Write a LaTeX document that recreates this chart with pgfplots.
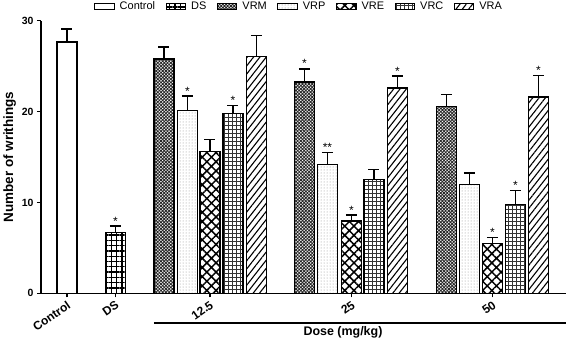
\documentclass[border=0pt]{standalone}
\usepackage{pgfplots}
\pgfplotsset{compat=1.18}
\usepackage{fontspec}
\setmainfont{Liberation Sans}
\usetikzlibrary{patterns.meta}
\begin{document}
\begin{tikzpicture}[x=1bp,y=1bp]
\pgfplotsset{
  mybar/.style={ybar, bar width=20, bar shift=0pt, draw=black, line width=1.3bp,
    error bars/.cd, y dir=plus, y explicit,
    error bar style={line width=1.4bp, black, solid},
    error mark options={line width=1.4bp, mark size=5.5bp, black, solid, rotate=90}},
}
\begin{axis}[
  scale only axis, width=525bp, height=272.6bp,
  xmin=40, xmax=565, ymin=0, ymax=30,
  axis x line*=bottom, axis y line*=left,
  axis line style={line width=1.3bp, -},
  tick align=outside, major tick length=4bp,
  tick style={line width=1.3bp, black},
  xtick={66,114.5,209,350.5,491.5},
  xticklabels={Control,DS,12.5,25,50},
  ytick={0,10,20,30},
  /pgf/number format/assume math mode=true,
  yticklabel style={font=\bfseries\fontsize{10.5}{12}\selectfont},
  xticklabel style={font=\bfseries\fontsize{12}{14}\selectfont, rotate=35, anchor=north east, inner sep=2bp},
  ylabel={Number of writhings},
  ylabel style={font=\bfseries\fontsize{13.5}{15}\selectfont, yshift=-1bp},
  clip=false,
  legend columns=7,
  legend style={draw=none, inner sep=0pt, at={(0.101,1)}, anchor=west, yshift=14bp,
    font=\fontsize{11}{13}\selectfont,
    /tikz/every odd column/.append style={column sep=3bp},
    /tikz/every even column/.append style={column sep=8.5bp}},
  legend image code/.code={\draw[#1, line width=1.1bp] (0bp,-3.2bp) rectangle (19.5bp,3.2bp);},
]
% Control
\addplot[fill=white, mybar] coordinates {(66,27.65) +- (0,1.45)};
\addlegendentry{Control}
% DS
\addplot[pattern={Hatch[angle=0,distance=5.3bp,line width=1.3bp]}, mybar] coordinates {(114.5,6.7) +- (0,0.7)};
\addlegendentry{DS}
% VRM
\addplot[pattern={Hatch[angle=45,distance=2.3bp,line width=0.85bp]}, pattern color=black!85, mybar] coordinates {
 (163,25.8) +- (0,1.3) (303.5,23.25) +- (0,1.45) (445.5,20.55) +- (0,1.35)};
\addlegendentry{VRM}
% VRP
\addplot[pattern={Dots[distance=3bp,radius=0.5bp]}, pattern color=black!45, mybar] coordinates {
 (186.5,20.1) +- (0,1.6) (326.5,14.2) +- (0,1.3) (468.5,12.0) +- (0,1.25)};
\addlegendentry{VRP}
% VRE
\addplot[pattern={Hatch[angle=45,distance=6.5bp,line width=1.5bp]}, mybar] coordinates {
 (209,15.6) +- (0,1.35) (350.5,7.95) +- (0,0.65) (491.5,5.5) +- (0,0.65)};
\addlegendentry{VRE}
% VRC
\addplot[pattern={Hatch[angle=0,distance=4bp,line width=0.6bp]}, pattern color=black!80, mybar] coordinates {
 (232,19.8) +- (0,0.9) (373,12.5) +- (0,1.1) (514.5,9.8) +- (0,1.5)};
\addlegendentry{VRC}
% VRA
\addplot[pattern={Lines[angle=52,distance=5bp,line width=1.1bp]}, mybar] coordinates {
 (255.5,26.1) +- (0,2.3) (396.5,22.6) +- (0,1.3) (537.5,21.6) +- (0,2.4)};
\addlegendentry{VRA}
% significance marks
\addplot[forget plot, sharp plot, draw=none, mark=none,
  nodes near coords, point meta=explicit symbolic,
  nodes near coords style={anchor=south, inner sep=0.8bp, font=\fontsize{12}{14}\selectfont}]
 coordinates {
 (114.5,7.4) [*]
 (186.5,21.7) [*] (232,20.7) [*]
 (303.5,24.7) [*] (326.5,15.5) [**] (350.5,8.6) [*] (396.5,23.9) [*]
 (491.5,6.15) [*] (514.5,11.3) [*] (537.5,24.0) [*]
 };
\draw[line width=2bp] ([yshift=-29.4bp]axis cs:153,0) -- ([yshift=-29.4bp]axis cs:565,0);
\node[font=\bfseries\fontsize{12.5}{14}\selectfont] at ([yshift=-38.5bp]axis cs:342,0) {Dose (mg/kg)};
\end{axis}
\end{tikzpicture}
\end{document}
